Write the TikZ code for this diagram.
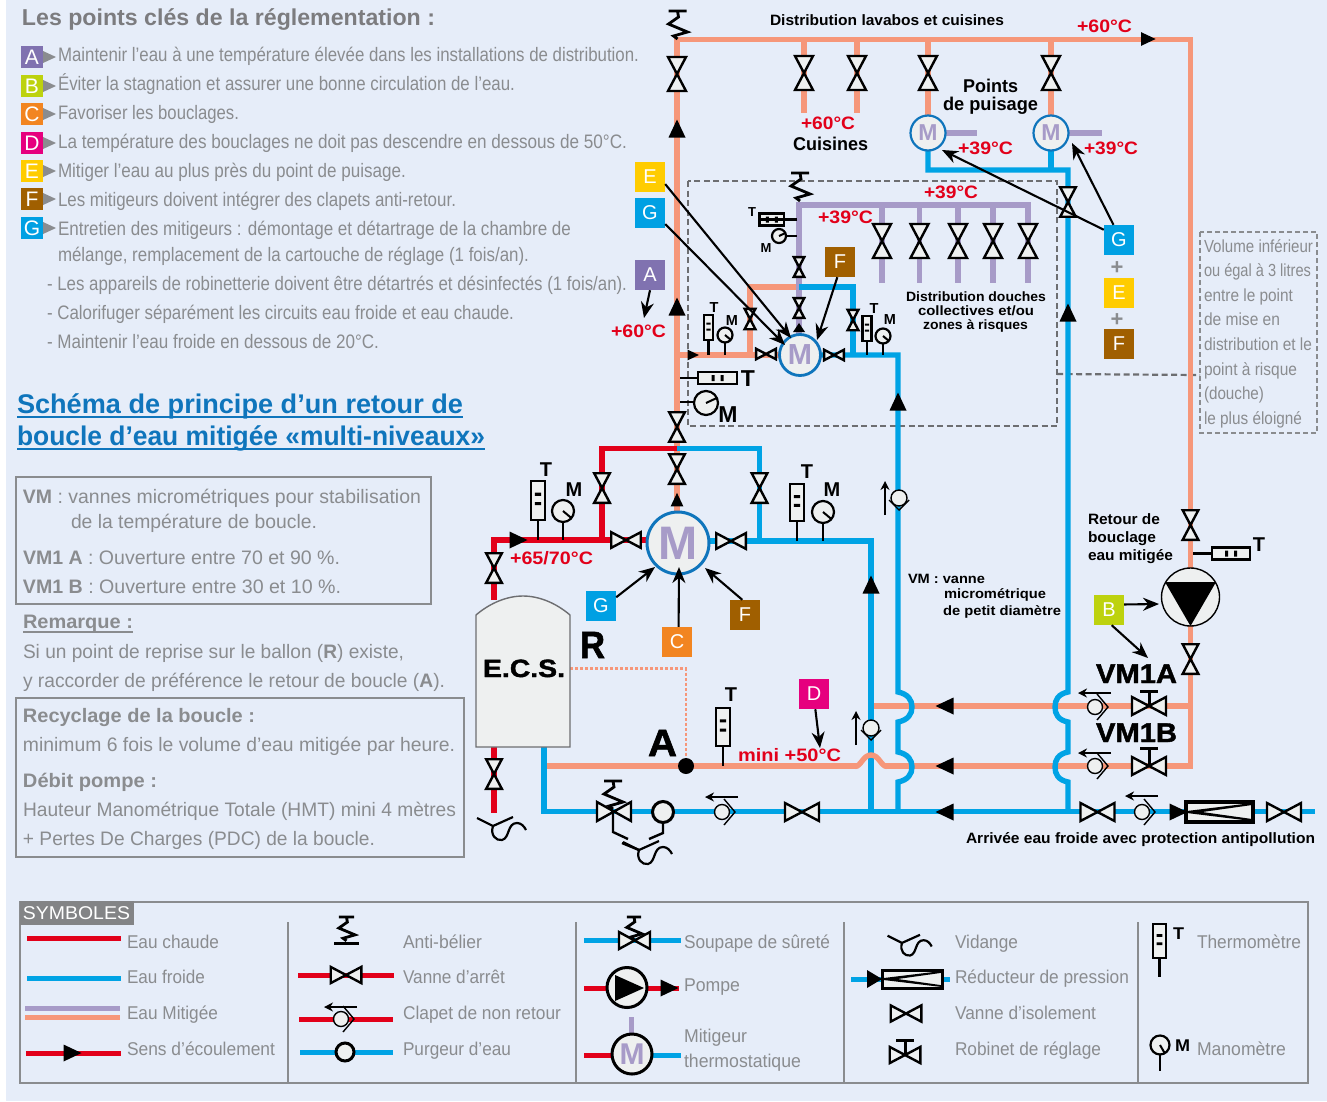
\documentclass[tikz,border=0pt]{standalone}
\usepackage{fontspec}
\usepackage{graphicx}
\usetikzlibrary{arrows.meta,shapes.geometric}
\setmainfont{Liberation Sans}
\newfontfamily\heavy[UprightFont={* Bold},FakeBold=1.5]{Liberation Sans}
\definecolor{bgc}{HTML}{E6EDF9}
\definecolor{salm}{HTML}{F6977A}
\definecolor{hot}{HTML}{E2001A}
\definecolor{cold}{HTML}{00A3E5}
\definecolor{purp}{HTML}{A79BC8}
\definecolor{mblue}{HTML}{0F75BC}
\definecolor{offw}{HTML}{EEF0F0}
\definecolor{gry}{HTML}{8A8C8F}
\definecolor{dgry}{HTML}{6D6E71}
\definecolor{cA}{HTML}{8072B0}
\definecolor{cB}{HTML}{BDD20E}
\definecolor{cC}{HTML}{F28521}
\definecolor{cD}{HTML}{E6007E}
\definecolor{cE}{HTML}{FFCC00}
\definecolor{cF}{HTML}{A05F00}
\definecolor{cG}{HTML}{00A0E3}
\newcounter{tn}
\tikzset{
  txt/.style={anchor=base west,inner sep=0pt,outer sep=0pt},
  body/.style={font=\fontsize{19.5}{20}\selectfont,text=gry},
  leg/.style={font=\fontsize{18.5}{20}\selectfont,text=gry},
  vol/.style={font=\fontsize{17.5}{20}\selectfont,text=gry},
  hd/.style={font=\fontsize{23}{24}\selectfont\bfseries,text=dgry!90},
  lnk/.style={font=\fontsize{27}{28}\selectfont\bfseries,text=mblue},
  redl/.style={font=\fontsize{18}{20}\selectfont\bfseries,text=hot},
  lab/.style={font=\fontsize{15}{16}\selectfont\bfseries,text=black},
  labb/.style={font=\fontsize{18.5}{20}\selectfont\bfseries,text=black},
  labs/.style={font=\fontsize{13.5}{16}\selectfont\bfseries,text=black},
  tm/.style={inner sep=0pt,font=\fontsize{20}{20}\selectfont\bfseries,text=black},
  tms/.style={inner sep=0pt,font=\fontsize{14.5}{15}\selectfont\bfseries,text=black},
  tmx/.style={inner sep=0pt,font=\fontsize{13}{13}\selectfont\bfseries,text=black},
  tml/.style={inner sep=0pt,font=\fontsize{23}{23}\selectfont\bfseries,text=black},
  hv/.style={font=\fontsize{#1}{#1}\selectfont\heavy,text=black},
  pipe/.style={line width=5.4pt,line join=miter},
  pipes/.style={line width=5pt},
  hotp/.style={pipe,draw=hot},
  coldp/.style={pipe,draw=cold},
  salp/.style={pipe,draw=salm},
  purpp/.style={pipe,draw=purp},
  valvest/.style={draw=black,fill=offw,line width=2.4pt,miter limit=6},
  blk/.style={draw=black,line width=2.4pt},
  ptr/.style={draw=black,line width=2.1pt,-{Stealth[length=16pt,width=13pt]}},
  bdg/.style={minimum size=30pt,inner sep=0pt,text=white,font=\fontsize{20}{20}\selectfont},
  bdl/.style={minimum size=22pt,inner sep=0pt,text=white,font=\fontsize{21}{21}\selectfont},
  mix/.style={circle,draw=mblue,fill=offw,inner sep=0pt,text=purp,font=\fontsize{#1}{#1}\selectfont\bfseries},
  gbox/.style={draw=gry,line width=1.3pt},
}
\newcommand\tx[5][]{\stepcounter{tn}\node[txt,#1,name=t\arabic{tn}] at (#2,#3) {\resizebox{\dimexpr#4pt-#2pt\relax}{\height}{#5}};}
\newcommand\VV[3][1]{\draw[valvest,shift={(#2,#3)},scale=#1] (-9,-17) -- (9,-17) -- (-9,17) -- (9,17) -- cycle;}
\newcommand\HV[3][1]{\draw[valvest,shift={(#2,#3)},scale=#1] (-17,-9) -- (-17,9) -- (17,-9) -- (17,9) -- cycle;}
\newcommand\Tri[4][1]{\fill[black,shift={(#3,#4)},rotate=#2,scale=#1] (-8.5,-8.5) -- (-8.5,8.5) -- (9.5,0) -- cycle;}
\newcommand\Rob[4][1]{\draw[blk,line width=3pt] (#2,#3) -- (#2,#4); \draw[blk,line width=3pt] ({#2-9},#4) -- ({#2+9},#4); \HV[#1]{#2}{#3}}
\newcommand\Ck[3]{\draw[draw=black,line width=1.4pt,shift={(#1,#2)}] (2,-13) -- (13,0) -- (2,13); \draw[draw=black,fill=offw,line width=1.4pt] (#1,#2) circle (7.5); \draw[black,line width=2pt,-{Stealth[length=9pt,width=9pt]}] ({#1+16},#3) -- ({#1-17},#3);}
\newcommand\CkV[3]{\draw[draw=black,line width=1.4pt,shift={(#1,#2)}] (-10,2) -- (0,12) -- (10,2); \draw[draw=black,fill=offw,line width=1.4pt] (#1,#2) circle (8); \draw[black,line width=2.2pt,-{Stealth[length=9pt,width=9pt]}] (#3,{#2+17}) -- (#3,{#2-17});}
\newcommand\Ab[3][1]{\draw[black,line width=2.8pt,shift={(#2,#3)},scale=#1,line join=miter] (-9,0) -- (9,0) (0,0) -- (1,6) -- (-9,13) -- (10,21) -- (-4,25) -- (0,28);}
% half width, x, top, bottom, stem end
\newcommand\Th[5][6.5]{\draw[black,line width=2.4pt] (#2,#4) -- (#2,#5); \draw[draw=black,fill=offw,line width=2.2pt] ({#2-#1},#3) rectangle ({#2+#1},#4); \fill[black] ({#2-#1*0.45},{#3+0.3*(#4-#3)}) rectangle ({#2+#1*0.45},{#3+0.38*(#4-#3)}) ({#2-#1*0.45},{#3+0.54*(#4-#3)}) rectangle ({#2+#1*0.45},{#3+0.62*(#4-#3)});}
\newcommand\ThH[4]{\draw[draw=black,fill=offw,line width=2.4pt] (#1,{#3-6}) rectangle (#2,{#3+6}); \fill[black] ({(#1+#2)/2-6},{#3-3}) rectangle ({(#1+#2)/2-3},{#3+3}) ({(#1+#2)/2+3},{#3-3}) rectangle ({(#1+#2)/2+6},{#3+3}); \draw[black,line width=2.4pt] (#4,#3) -- (#1,#3);}
\newcommand\Ga[4]{\draw[draw=black,fill=offw,line width=2.2pt] (#1,#2) circle (#3); \draw[black,line width=2pt] (#1,#2) -- ++(#4:#3);}
\newcommand\Vid[3][1]{\draw[black,line width=2.2pt,shift={(#2,#3)},scale=#1] (-16,-7) -- (0,1) -- (20,-8) (0,1) .. controls (-3,10) and (3,16) .. (9,15) .. controls (17,13) and (14,-2) .. (24,-2) .. controls (28,-2) and (31,1) .. (33,5);}
\begin{document}
\begin{tikzpicture}[x=1pt,y=-1pt]
\useasboundingbox (0,0) rectangle (1327,1101);
\fill[white] (0,0) rectangle (1327,1101);
\fill[bgc] (6,0) rectangle (1327,1101);

%---------- left text
\tx[hd]{22}{25}{435}{Les points clés de la réglementation :}
\foreach \nm/\cc/\yy in {A/cA/57,B/cB/86,C/cC/114,D/cD/143,E/cE/171,F/cF/199,G/cG/228}{
  \node[bdl,fill=\cc] (l\nm) at (32,\yy) {\nm};
  \fill[gry] (43,\yy-6) -- (43,\yy+6) -- (56,\yy) -- cycle;
}
\tx[body]{58}{61}{639}{Maintenir l’eau à une température élevée dans les installations de distribution.}
\tx[body]{58}{90}{515}{Éviter la stagnation et assurer une bonne circulation de l’eau.}
\tx[body]{58}{119}{239}{Favoriser les bouclages.}
\tx[body]{58}{148}{627}{La température des bouclages ne doit pas descendre en dessous de 50°C.}
\tx[body]{58}{177}{406}{Mitiger l’eau au plus près du point de puisage.}
\tx[body]{58}{206}{456}{Les mitigeurs doivent intégrer des clapets anti-retour.}
\tx[body]{58}{235}{571}{Entretien des mitigeurs : démontage et détartrage de la chambre de}
\tx[body]{58}{261}{529}{mélange, remplacement de la cartouche de réglage (1 fois/an).}
\tx[body]{47}{290}{627}{- Les appareils de robinetterie doivent être détartrés et désinfectés (1 fois/an).}
\tx[body]{47}{319}{514}{- Calorifuger séparément les circuits eau froide et eau chaude.}
\tx[body]{47}{348}{379}{- Maintenir l’eau froide en dessous de 20°C.}

\tx[lnk]{17}{413}{463}{Schéma de principe d’un retour de}
\tx[lnk]{17}{445}{485}{boucle d’eau mitigée «multi-niveaux»}
\draw[mblue,line width=1.5pt] (17,417) -- (463,417) (17,449) -- (485,449);

\draw[gbox] (16,477) rectangle (431,604);
\tx[body]{23}{503}{421}{\textbf{VM} : vannes micrométriques pour stabilisation}
\tx[body]{71}{528}{317}{de la température de boucle.}
\tx[body]{23}{564}{340}{\textbf{VM1 A} : Ouverture entre 70 et 90 \%.}
\tx[body]{23}{593}{341}{\textbf{VM1 B} : Ouverture entre 30 et 10 \%.}
\tx[body]{23}{628}{133}{\textbf{Remarque :}}
\draw[gry,line width=1.2pt] (23,632) -- (133,632);
\tx[body]{23}{658}{404}{Si un point de reprise sur le ballon (\textbf{R}) existe,}
\tx[body]{23}{687}{445}{y raccorder de préférence le retour de boucle (\textbf{A}).}
\draw[gbox] (16,698) rectangle (464,857);
\tx[body]{23}{722}{255}{\textbf{Recyclage de la boucle :}}
\tx[body]{23}{751}{455}{minimum 6 fois le volume d’eau mitigée par heure.}
\tx[body]{23}{787}{157}{\textbf{Débit pompe :}}
\tx[body]{23}{816}{456}{Hauteur Manométrique Totale (HMT) mini 4 mètres}
\tx[body]{23}{845}{375}{+ Pertes De Charges (PDC) de la boucle.}

%---------- dashed frames
\draw[dgry,line width=2.2pt,dash pattern=on 6pt off 3.5pt] (688,181) rectangle (1057,426);
\draw[dgry,line width=2.2pt,dash pattern=on 6pt off 3.5pt] (1057,374) -- (1200,375);
\draw[gry,line width=1.5pt,dash pattern=on 5pt off 3pt] (1200,232) rectangle (1317,433);
\tx[vol]{1204}{252}{1313}{Volume inférieur}
\tx[vol]{1204}{276}{1311}{ou égal à 3 litres}
\tx[vol]{1204}{301}{1293}{entre le point}
\tx[vol]{1204}{325}{1280}{de mise en}
\tx[vol]{1204}{350}{1312}{distribution et le}
\tx[vol]{1204}{375}{1297}{point à risque}
\tx[vol]{1204}{399}{1264}{(douche)}
\tx[vol]{1204}{424}{1302}{le plus éloigné}

%---------- named pipe junctions
\coordinate (jTL) at (677,39.5);
\coordinate (jTR) at (1190.5,39.5);
\coordinate (jBR) at (1190.5,766);
\coordinate (jRisE) at (677,515);

%---------- pipes : mixed water (salmon)
\draw[salp] (jRisE) -- (jTL) -- (jTR) -- (jBR) -- (885,766);
\draw[salp] (857,766) -- (546,766);
\draw[salp] (1190.5,706) -- (873,706);
\draw[salp] (804,39) -- (804,113);
\draw[salp] (857,39) -- (857,113);
\draw[salp] (928,39) -- (928,120);
\draw[salp] (1051,39) -- (1051,120);
\draw[salp] (677,355) -- (785,355);
\draw[salp] (750,355) -- (750,287) -- (799,287);
%---------- pipes : mixed water (purple)
\draw[purpp] (799,340) -- (799,205) -- (1030.5,205);
\foreach \xx in {882,919.5,958,993,1028}{\draw[purpp] (\xx,205) -- (\xx,283);}
\draw[purpp] (940,133) -- (977,133);
\draw[purpp] (1063,133) -- (1102,133);
%---------- pipes : cold
\draw[coldp] (928,145) -- (928,170) -- (1068,170) -- (1068,692) .. controls (1058,694) and (1055,700) .. (1055,707) .. controls (1055,714) and (1058,720) .. (1068,722) -- (1068,752) .. controls (1058,754) and (1055,760) .. (1055,767) .. controls (1055,774) and (1058,780) .. (1068,782) -- (1068,812);
\draw[coldp] (1051,145) -- (1051,170);
\draw[coldp] (799,287) -- (853,287) -- (853,355);
\draw[coldp] (815,355) -- (898,355) -- (898,692) .. controls (908,694) and (912,700) .. (912,707) .. controls (912,714) and (908,720) .. (898,722) -- (898,752) .. controls (908,754) and (912,760) .. (912,767) .. controls (912,774) and (908,780) .. (898,782) -- (898,812);
\draw[coldp] (677,448.5) -- (759.5,448.5) -- (759.5,541) -- (700,541);
\draw[coldp] (759.5,541) -- (871,541) -- (871,812);
\draw[coldp] (544,747) -- (544,811.5) -- (1315,811.5);
%---------- the return line passes over the cold riser
\draw[salp,line cap=butt] (887,766.5) .. controls (881,766.5) and (879,755) .. (871,755) .. controls (863,755) and (861,766.5) .. (855,766.5);
%---------- pipes : hot
\draw[hotp] (677,448.5) -- (602,448.5) -- (602,540);
\draw[hotp] (494,600) -- (494,540) -- (655,540);
\draw[hotp] (494,747) -- (494,813);
\draw[salm,line width=2.2pt,dash pattern=on 3pt off 2pt] (570,668.5) -- (686,668.5) -- (686,765);
\draw[salp] (677,451) -- (677,515);

%---------- tank
\draw[draw=dgry,fill=offw,line width=1.4pt] (476,615) .. controls (490,603) and (507,596) .. (523,596) .. controls (539,596) and (556,603) .. (570,615) -- (570,747) -- (476,747) -- cycle;
\fill[black] (686,766) circle (8);
\tx[hv=25]{483}{677}{565}{E.C.S.}
\tx[hv=38]{580}{658}{605}{R}
\tx[hv=38]{648}{756}{677}{A}

%---------- valves
\VV{677}{74} \VV{804}{73} \VV{857}{73} \VV{928}{73} \VV{1051}{73}
\foreach \xx in {882,919.5,958,993,1028}{\VV{\xx}{241}}
\VV[.58]{799}{267} \VV[.58]{799}{308}
\VV[.6]{750}{319} \VV[.6]{853}{320}
\HV[.58]{766}{354} \HV[.58]{834}{355}
\VV[.87]{677}{427} \VV[.87]{677}{469}
\VV[.87]{602}{488} \VV[.87]{759.5}{488}
\HV[.87]{626}{540} \HV[.87]{731}{541}
\VV[.87]{494}{568} \VV[.87]{494}{774}
\VV[.87]{1068}{202}
\VV[.87]{1190.5}{525} \VV[.87]{1190.5}{659}
\HV{802}{812} \HV{1097.5}{812} \HV{1284}{812}
\Rob{1149}{706}{691} \Rob{1149}{766}{748}

%---------- mixers
\node[mix=23,line width=2.2pt,minimum size=35pt] (mt1) at (928,133) {M};
\node[mix=23,line width=2.2pt,minimum size=35pt] (mt2) at (1051,133) {M};
\node[mix=29,line width=2.8pt,minimum size=41pt] (mm) at (800,355) {M};
\node[mix=47,line width=3pt,minimum size=62pt] (mb) at (678,543) {M};

%---------- anti-hammer, thermometers and gauges
\Ab{677.5}{11} \Ab{800}{173}
\Ab{613}{781}
\draw[black,line width=2.4pt] (613,812) -- (613,832) -- (628,839);
\draw[valvest] (597,802) -- (597,821) -- (631,802) -- (631,821) -- cycle;
\draw[black,line width=2.4pt] (663,812) -- (663,833) -- (649,839);
\draw[draw=black,fill=offw,line width=3pt] (663,812) circle (10.5);
\Ck{722}{812}{797} \Ck{1095}{707}{693} \Ck{1095}{766}{753} \Ck{1142}{812}{796}
\CkV{871}{728}{856} \CkV{899}{498}{885}
\Vid{493}{825} \Vid{639}{849}
\draw[black,line width=2.4pt] (622,843) -- (639,850);

\Th[7]{538}{481}{520}{540}   \draw[black,line width=2.4pt] (563,522) -- (563,540); \Ga{563}{511}{11}{40}
\Th[7]{797}{484}{521}{541}   \draw[black,line width=2.4pt] (823,523) -- (823,541); \Ga{823}{512}{11}{40}
\Th[4.5]{708.5}{315}{340}{355} \draw[black,line width=2.4pt] (725,342) -- (725,355); \Ga{725}{335}{7.5}{40}
\Th[4.5]{867}{316}{341}{355}   \draw[black,line width=2.4pt] (883,343) -- (883,355); \Ga{883}{336}{7.5}{40}
\Th[7]{723}{708}{746}{766}
\ThH{698}{737}{378}{680}
\draw[black,line width=2.4pt] (680,402) -- (694,402); \Ga{706}{403}{12}{-25}
\ThH{759.5}{784}{219.5}{797}
\draw[black,line width=2pt] (786,236) -- (797,236); \Ga{779}{236}{7}{-25}
\ThH{1212}{1250}{553.5}{1193}

%---------- reducer, pump
\draw[draw=black,fill=offw,line width=3.2pt] (1186,802) rectangle (1253,822);
\draw[black,line width=2pt] (1187,812) -- (1252,804) -- (1195,812) -- (1252,820) -- (1187,812);
\node[circle,draw=black,fill=offw,line width=1.4pt,minimum size=58pt,inner sep=0pt] (pump) at (1190.5,597) {};
\fill[black] (1165,582) -- (1216,582) -- (1190.5,626) -- cycle;

%---------- flow triangles
\Tri{90}{677}{129} \Tri{90}{677}{307} \Tri[.75]{90}{677}{500} \Tri{90}{898}{402} \Tri{90}{871}{585} \Tri{90}{1068}{313}
\Tri{0}{518}{540} \Tri[.8]{0}{1148}{39} \Tri[.62]{0}{693}{355}
\Tri{180}{945}{706} \Tri{180}{945}{766} \Tri{180}{945}{812} \Tri{0}{1178}{812}
\fill[black] (793,332) -- (805,332) -- (799,323) -- cycle;

%---------- badges and pointers
\node[bdg,fill=cE] (bE) at (650,177) {E};
\node[bdg,fill=cG] (bG) at (650,213) {G};
\node[bdg,fill=cA] (bA) at (650,275) {A};
\node[bdg,fill=cF] (bF) at (840,262) {F};
\node[bdg,fill=cG] (bG2) at (1119,240) {G};
\node[bdg,fill=cE] (bE2) at (1119,293) {E};
\node[bdg,fill=cF] (bF2) at (1119,344) {F};
\node[bdg,fill=cG] (bG3) at (601,606) {G};
\node[bdg,fill=cC] (bC) at (677,642) {C};
\node[bdg,fill=cF] (bF3) at (745,615) {F};
\node[bdg,fill=cB] (bB) at (1109,610) {B};
\node[bdg,fill=cD] (bD) at (814,694) {D};
\node[font=\fontsize{22}{22}\selectfont\bfseries,text=gry,inner sep=0pt] (plus1) at (1117,268) {+};
\node[font=\fontsize{22}{22}\selectfont\bfseries,text=gry,inner sep=0pt] (plus2) at (1117,320) {+};
\coordinate (tA) at (644,318);
\coordinate (tE) at (791,338);
\coordinate (tG) at (785,345);
\coordinate (tF) at (817,340);
\coordinate (tC) at (679,567);
\coordinate (tGb) at (655,567);
\coordinate (tFb) at (705,568);
\coordinate (tB1) at (1159,604);
\coordinate (tB2) at (1148,658);
\coordinate (tD) at (820,748);
\coordinate (tG1) at (942,150);
\coordinate (tG2) at (1072,143);
\draw[ptr] (bE.-25) -- (tE);
\draw[ptr] (bG.-36) -- (tG);
\draw[ptr] (bF.-100) -- (tF);
\draw[ptr] (bA.south) -- (tA);
\draw[ptr] (bG2.146) -- (tG1);
\draw[ptr] (bG2.110) -- (tG2);
\draw[ptr] (bG3.30) -- (tGb);
\draw[ptr] (bC.84) -- (tC);
\draw[ptr] (bF3.100) -- (tFb);
\draw[ptr] (bB.20) -- (tB1);
\draw[ptr] (bB.-80) -- (tB2);
\draw[ptr] (bD.-85) -- (tD);

%---------- diagram labels
\tx[lab]{770}{25}{1004}{Distribution lavabos et cuisines}
\tx[redl]{1077}{32}{1132}{+60°C}
\tx[redl]{801}{129}{855}{+60°C}
\tx[labb]{793}{150.5}{868}{Cuisines}
\tx[labb]{963}{92}{1018}{Points}
\tx[labb]{943}{110}{1038}{de puisage}
\tx[redl]{958}{154}{1013}{+39°C}
\tx[redl]{1084}{154}{1138}{+39°C}
\tx[redl]{924}{198}{978}{+39°C}
\tx[redl]{818}{223}{873}{+39°C}
\tx[redl]{611}{337}{666}{+60°C}
\tx[redl]{510}{564}{593}{+65/70°C}
\tx[redl]{738}{761}{841}{mini +50°C}
\tx[labs]{906}{301}{1046}{Distribution douches}
\tx[labs]{918}{315}{1034}{collectives et/ou}
\tx[labs]{923}{329}{1028}{zones à risques}
\tx[lab]{966}{843}{1315}{Arrivée eau froide avec protection antipollution}
\tx[lab]{1088}{524}{1160}{Retour de}
\tx[lab]{1088}{542}{1156}{bouclage}
\tx[lab]{1088}{560}{1173}{eau mitigée}
\tx[labs]{908}{583}{985}{VM : vanne}
\tx[labs]{944}{598}{1046}{micrométrique}
\tx[labs]{943}{615}{1061}{de petit diamètre}
\tx[hv=27]{1096}{683}{1177}{VM1A}
\tx[hv=27]{1096}{742}{1177}{VM1B}
\node[tm] (lT1) at (546,470) {T};
\node[tm] (lM1) at (574,490) {M};
\node[tm] (lT2) at (807,472) {T};
\node[tm] (lM2) at (832,490) {M};
\node[tms] (lT3) at (714,308) {T};
\node[tms] (lM3) at (732,321) {M};
\node[tms] (lT4) at (874,309) {T};
\node[tms] (lM4) at (890,320) {M};
\node[tmx] (lT5) at (752,212) {T};
\node[tmx] (lM5) at (766,248) {M};
\node[tml] (lT6) at (748,379) {T};
\node[tml] (lM6) at (728,415) {M};
\node[tm] (lT7) at (731,695) {T};
\node[tm] (lT8) at (1259,545) {T};

%---------- legend
\draw[gbox] (20,902) rectangle (1308,1083);
\foreach \xx in {288,576,844,1138}{\draw[gbox] (\xx,922) -- (\xx,1083);}
\fill[dgry!85] (20,901) rectangle (134,925);
\tx[font=\fontsize{18.5}{20}\selectfont,text=white]{23}{919}{130}{SYMBOLES}
\draw[hot,pipes] (27,938) -- (121,938);
\draw[cold,pipes] (27,978) -- (121,978);
\draw[purp,pipes] (25,1008) -- (120,1008);
\draw[salm,pipes] (25,1017) -- (120,1017);
\draw[hot,pipes] (26,1053) -- (121,1053);
\Tri{0}{72}{1053}
\tx[leg]{127}{948}{219}{Eau chaude}
\tx[leg]{127}{983}{205}{Eau froide}
\tx[leg]{127}{1019}{218}{Eau Mitigée}
\tx[leg]{127}{1055}{275}{Sens d’écoulement}

\Ab[.85]{346.5}{917}
\draw[black,line width=3pt] (334,943) -- (359,943);
\draw[hot,pipes] (298,975) -- (394,975);
\HV[.9]{346}{975}
\draw[hot,pipes] (299,1019) -- (393,1019);
\Ck{341}{1019}{1007}
\draw[cold,pipes] (300,1052) -- (393,1052);
\draw[draw=black,fill=offw,line width=3pt] (345,1052) circle (9);
\tx[leg]{403}{948}{482}{Anti-bélier}
\tx[leg]{403}{983}{505}{Vanne d’arrêt}
\tx[leg]{403}{1019}{561}{Clapet de non retour}
\tx[leg]{403}{1055}{511}{Purgeur d’eau}

\draw[cold,pipes] (584,940) -- (681,940);
\Ab[.8]{634}{917}
\draw[valvest] (619,932) -- (619,949) -- (650,932) -- (650,949) -- cycle;
\draw[hot,pipes] (584,988) -- (679,988);
\node[circle,draw=black,fill=offw,line width=3pt,minimum size=40pt,inner sep=0pt] (pl) at (627,987.5) {};
\fill[black] (615,975) -- (615,1001) -- (644,988) -- cycle;
\Tri{0}{669}{988}
\draw[purp,pipes] (631,1017) -- (631,1040);
\draw[hot,pipes] (584,1055) -- (615,1055);
\draw[cold,pipes] (648,1055) -- (681,1055);
\node[mix=30,draw=black,line width=3pt,minimum size=40pt] (ml) at (632,1054) {M};
\tx[leg]{684}{948}{830}{Soupape de sûreté}
\tx[leg]{684}{991}{740}{Pompe}
\tx[leg]{684}{1042}{747}{Mitigeur}
\tx[leg]{684}{1067}{801}{thermostatique}

\Vid[.9]{902}{942}
\draw[cold,pipes] (851,979) -- (950,979);
\fill[black] (867,970) -- (867,988) -- (882,979) -- cycle;
\draw[draw=black,fill=offw,line width=3pt] (882,970.5) rectangle (942,988);
\draw[black,line width=1.8pt] (883,979) -- (941,972) -- (891,979) -- (941,986) -- (883,979);
\HV[.9]{906}{1013.5}
\Rob[.9]{905}{1055}{1040}
\tx[leg]{955}{948}{1018}{Vidange}
\tx[leg]{955}{983}{1129}{Réducteur de pression}
\tx[leg]{955}{1019}{1096}{Vanne d’isolement}
\tx[leg]{955}{1055}{1101}{Robinet de réglage}

\Th{1159.5}{924}{958}{977}
\draw[black,line width=2.4pt] (1160,1055) -- (1160,1071);
\Ga{1160}{1045}{9.5}{60}
\tx[font=\fontsize{17}{17}\selectfont\bfseries,text=black]{1173}{939}{1184}{T}
\tx[font=\fontsize{17}{17}\selectfont\bfseries,text=black]{1175}{1051}{1190}{M}
\tx[leg]{1197}{948}{1301}{Thermomètre}
\tx[leg]{1197}{1055}{1286}{Manomètre}
\end{tikzpicture}
\end{document}
